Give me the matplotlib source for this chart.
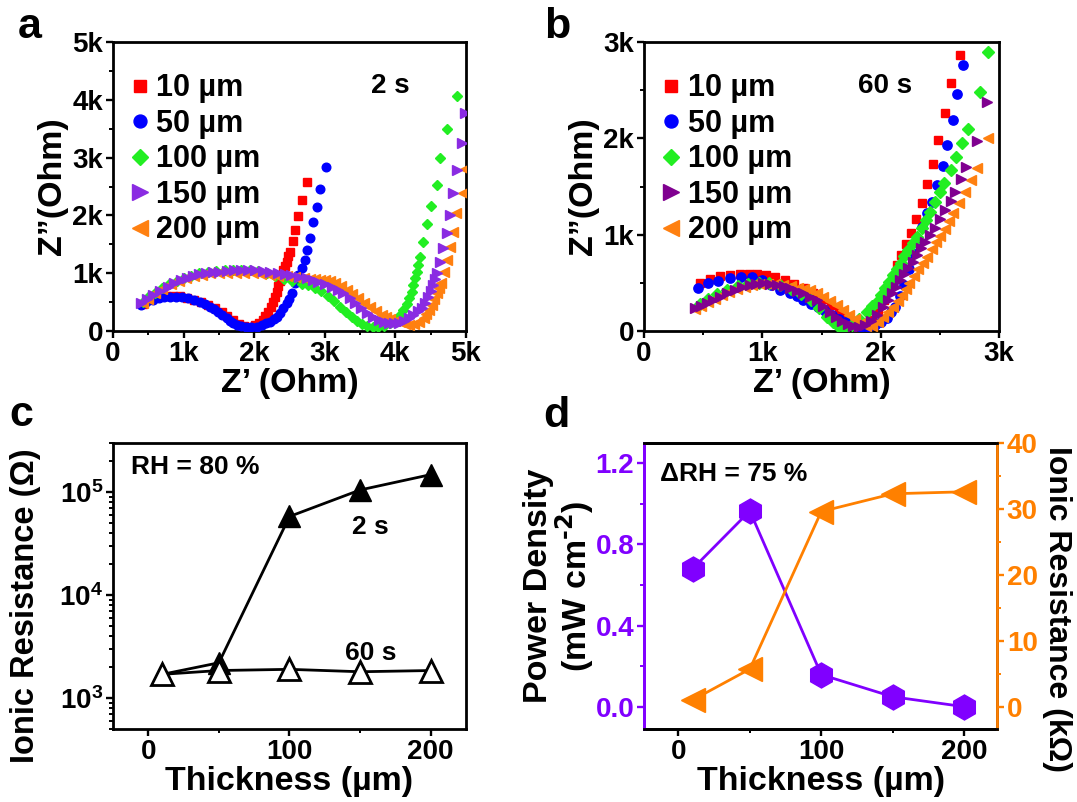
import matplotlib
matplotlib.use("Agg")
import matplotlib.pyplot as plt
from matplotlib.ticker import MultipleLocator, FuncFormatter, LogLocator, LogFormatterMathtext

plt.rcParams['font.family'] = ['Liberation Sans', 'DejaVu Sans']
plt.rcParams['font.weight'] = 'bold'
plt.rcParams['mathtext.default'] = 'bf'

# ---- panel a: Nyquist plots, 2 s ----
a10_re = [420, 480, 560, 650, 750, 850, 950, 1050, 1150, 1250, 1350, 1450, 1540, 1620, 1700, 1780, 1860, 1940, 2010, 2070,
          2120, 2160, 2200, 2235, 2265, 2290, 2318, 2342, 2365, 2390, 2413, 2437, 2460, 2485, 2507, 2545, 2578, 2625, 2672, 2743]
a10_im = [470, 530, 575, 600, 610, 610, 600, 575, 540, 500, 450, 390, 330, 260, 190, 125, 85, 75, 95, 140,
          195, 260, 330, 410, 500, 590, 680, 770, 860, 960, 1055, 1130, 1200, 1290, 1372, 1563, 1747, 1995, 2266, 2583]
a50_re = [400, 470, 563, 650, 729, 810, 896, 980, 1063, 1150, 1229, 1300, 1371, 1430, 1491, 1550, 1610, 1660, 1706, 1760,
          1820, 1890, 1960, 2035, 2110, 2170, 2224, 2275, 2320, 2365, 2410, 2460, 2500, 2531, 2578, 2625, 2672, 2720, 2752, 2790,
          2838, 2894, 2932, 3017]
a50_im = [450, 500, 536, 565, 583, 592, 595, 585, 566, 540, 507, 465, 420, 378, 334, 280, 220, 175, 133, 100,
          80, 72, 70, 74, 100, 130, 161, 200, 250, 306, 390, 479, 560, 652, 825, 969, 1085, 1228, 1401, 1604,
          1891, 2151, 2451, 2843]
a100_re = [420, 500, 600, 700, 800, 900, 1000, 1100, 1220, 1340, 1460, 1580, 1700, 1820, 1940, 2060, 2180, 2300, 2420, 2540,
           2670, 2760, 2857, 2950, 3048, 3130, 3215, 3300, 3381, 3450, 3524, 3600, 3680, 3760, 3840, 3920, 3980, 4018, 4070, 4112,
           4160, 4197, 4230, 4254, 4280, 4301, 4325, 4348, 4387, 4443, 4500, 4594, 4632, 4727, 4877]
a100_im = [500, 580, 660, 740, 810, 870, 920, 960, 995, 1020, 1040, 1055, 1060, 1060, 1050, 1030, 995, 950, 900, 860,
           820, 790, 750, 690, 610, 520, 420, 330, 247, 180, 120, 80, 65, 70, 90, 130, 160, 190, 270, 363,
           460, 565, 680, 796, 910, 1026, 1150, 1286, 1545, 1846, 2168, 2526, 2988, 3490, 4066]
a150_re = [400, 480, 562, 660, 775, 870, 963, 1050, 1129, 1220, 1317, 1410, 1506, 1610, 1718, 1810, 1907, 2010, 2120, 2230,
           2333, 2430, 2527, 2640, 2741, 2830, 2906, 3000, 3097, 3180, 3263, 3350, 3430, 3510, 3596, 3680, 3763, 3840, 3906, 3980,
           4049, 4120, 4191, 4254, 4320, 4372, 4420, 4466, 4500, 4528, 4560, 4585, 4632, 4679, 4727, 4773, 4821, 4868, 4950, 4990]
a150_im = [490, 560, 623, 700, 767, 830, 882, 920, 952, 978, 998, 1012, 1026, 1040, 1050, 1055, 1055, 1050, 1040, 1025,
           1010, 990, 969, 940, 911, 885, 854, 815, 767, 712, 652, 570, 479, 390, 306, 240, 190, 150, 133, 130,
           144, 180, 230, 280, 340, 392, 490, 593, 690, 796, 900, 998, 1199, 1430, 1690, 2007, 2382, 2785, 3250, 3770]
a200_re = [420, 500, 600, 700, 820, 930, 1040, 1150, 1260, 1380, 1500, 1620, 1740, 1860, 1980, 2100, 2220, 2340, 2460, 2580,
           2700, 2790, 2857, 2930, 3000, 3070, 3143, 3230, 3310, 3390, 3477, 3560, 3644, 3730, 3810, 3870, 3929, 3990, 4060, 4130,
           4191, 4260, 4334, 4400, 4440, 4477, 4514, 4550, 4585, 4620, 4641, 4688, 4727, 4773, 4811, 4858, 4955, 4980]
a200_im = [480, 560, 650, 730, 810, 870, 915, 950, 975, 995, 1005, 1010, 1010, 1005, 995, 985, 975, 960, 945, 930,
           915, 905, 900, 890, 880, 860, 825, 770, 709, 640, 565, 490, 420, 350, 277, 240, 210, 180, 150, 120,
           110, 120, 150, 230, 290, 370, 450, 550, 652, 740, 836, 1026, 1228, 1459, 1718, 2036, 2390, 2800]

# ---- panel b: Nyquist plots, 60 s ----
b10_re = [473, 560, 642, 730, 811, 890, 952, 1030, 1110, 1190, 1270, 1350, 1430, 1510, 1580, 1650, 1710, 1770, 1830, 1880,
          1930, 1980, 2030, 2070, 2107, 2140, 2170, 2215, 2254, 2299, 2347, 2390, 2440, 2488, 2544, 2595, 2666]
b10_im = [495, 540, 571, 585, 592, 594, 592, 580, 560, 530, 490, 445, 390, 330, 265, 195, 130, 75, 45, 50,
          110, 200, 320, 440, 560, 680, 789, 903, 1021, 1163, 1326, 1523, 1734, 1983, 2261, 2572, 2866]
b50_re = [459, 544, 628, 727, 820, 910, 1000, 1075, 1150, 1234, 1290, 1347, 1410, 1470, 1530, 1590, 1650, 1710, 1770, 1830,
          1890, 1950, 2000, 2050, 2090, 2122, 2160, 2200, 2235, 2263, 2305, 2347, 2390, 2432, 2479, 2530, 2564, 2609, 2643, 2694]
b50_im = [443, 495, 522, 547, 565, 565, 530, 480, 426, 391, 360, 322, 285, 245, 205, 165, 125, 90, 60, 45,
          45, 60, 90, 140, 195, 252, 360, 480, 640, 807, 945, 1083, 1222, 1343, 1516, 1713, 1931, 2191, 2461, 2762]
b100_re = [470, 540, 620, 700, 790, 880, 970, 1060, 1150, 1240, 1330, 1410, 1480, 1544, 1600, 1650, 1700, 1760, 1820, 1883,
           1930, 1967, 2000, 2037, 2070, 2107, 2140, 2170, 2200, 2234, 2270, 2305, 2345, 2384, 2420, 2460, 2500, 2536, 2590, 2637,
           2690, 2741, 2840, 2911]
b100_im = [280, 330, 380, 425, 465, 490, 500, 495, 475, 440, 385, 320, 240, 148, 90, 44, 30, 60, 120, 200,
           255, 304, 370, 443, 510, 582, 645, 709, 775, 841, 910, 979, 1065, 1153, 1240, 1336, 1440, 1540, 1675, 1810,
           1950, 2094, 2485, 2900]
b150_re = [431, 480, 530, 585, 642, 705, 769, 830, 896, 950, 1008, 1065, 1121, 1180, 1234, 1290, 1347, 1400, 1460, 1515,
           1572, 1620, 1670, 1720, 1770, 1820, 1870, 1920, 1970, 2023, 2060, 2094, 2130, 2164, 2200, 2234, 2270, 2305, 2340, 2375,
           2420, 2460, 2500, 2544, 2590, 2629, 2680, 2722, 2812, 2897]
b150_im = [236, 262, 288, 322, 356, 392, 426, 455, 478, 490, 495, 490, 478, 462, 443, 420, 391, 358, 322, 262,
           200, 150, 105, 70, 50, 45, 60, 100, 170, 252, 320, 391, 460, 530, 590, 651, 720, 789, 860, 927,
           995, 1066, 1160, 1257, 1350, 1447, 1580, 1706, 1976, 2381]
b200_re = [430, 485, 540, 600, 660, 720, 785, 850, 915, 980, 1045, 1110, 1175, 1240, 1300, 1350, 1403, 1460, 1516, 1570,
           1629, 1680, 1730, 1780, 1830, 1880, 1930, 1980, 2023, 2065, 2107, 2143, 2178, 2210, 2243, 2280, 2319, 2355, 2390, 2430,
           2468, 2505, 2544, 2580, 2615, 2665, 2713, 2760, 2812, 2911]
b200_im = [230, 262, 298, 335, 372, 405, 435, 460, 478, 490, 492, 488, 478, 465, 448, 438, 426, 395, 356, 315,
           270, 220, 170, 120, 80, 55, 55, 90, 148, 200, 252, 310, 374, 435, 495, 570, 641, 705, 772, 850,
           927, 990, 1056, 1140, 1222, 1330, 1447, 1570, 1690, 2001]

# ---- panels c, d ----
thickness = [10, 50, 100, 150, 200]
res_2s = [1700, 2200, 58000, 105000, 148000]
res_60s = [1700, 1850, 1900, 1800, 1850]
power_density = [0.68, 0.965, 0.158, 0.049, 0.0]
ionic_res_k = [1.0, 5.7, 29.6, 32.3, 32.6]

labels = ['10 µm', '50 µm', '100 µm', '150 µm', '200 µm']
cols_a = ['#ff0000', '#0000ff', '#22ee22', '#8a2be2', '#ff8010']
cols_b = ['#ff0000', '#0000ff', '#22ee22', '#800090', '#ff8010']
markers = ['s', 'o', 'D', '>', '<']
msizes = [5.6, 6.2, 5.6, 7.4, 7.4]

TICK = 20
LAB = 24.5
SPW = 2.0


def style_axes(ax):
    for s in ax.spines.values():
        s.set_linewidth(SPW)
    ax.tick_params(which='major', direction='out', length=5, width=1.7, labelsize=TICK, pad=2)
    ax.tick_params(which='minor', direction='out', length=3, width=1.4)
    ax.tick_params(top=False, right=False, which='both')
    for lab in ax.get_xticklabels() + ax.get_yticklabels():
        lab.set_fontweight('bold')


def kfmt(v, pos):
    return '0' if v == 0 else f'{int(v / 1000)}k'


fig = plt.figure(figsize=(10.77, 8.02), dpi=100)

ax_a = fig.add_axes([0.1049, 0.5873, 0.3278, 0.3603])
ax_b = fig.add_axes([0.5980, 0.5873, 0.3296, 0.3603])
ax_c = fig.add_axes([0.1049, 0.0910, 0.3278, 0.3566])
ax_d = fig.add_axes([0.5980, 0.0910, 0.3278, 0.3566])

leg_kw = dict(loc='upper left', frameon=False, handlelength=0.7, handletextpad=0.2, labelspacing=0.18,
              borderpad=0, borderaxespad=0, prop={'weight': 'bold', 'size': 22})

# panel a
series_a = [(a10_re, a10_im), (a50_re, a50_im), (a100_re, a100_im), (a150_re, a150_im), (a200_re, a200_im)]
zorders = [2, 3, 4, 6, 5]
for i, (re, im) in enumerate(series_a):
    ax_a.plot(re, im, linestyle='none', marker=markers[i], ms=msizes[i], color=cols_a[i],
              mec=cols_a[i], label=labels[i], zorder=zorders[i])
ax_a.set_xlim(0, 5000)
ax_a.set_ylim(0, 5000)
for axis in (ax_a.xaxis, ax_a.yaxis):
    axis.set_major_locator(MultipleLocator(1000))
    axis.set_minor_locator(MultipleLocator(500))
    axis.set_major_formatter(FuncFormatter(kfmt))
style_axes(ax_a)
ax_a.set_xlabel('Z’ (Ohm)', fontsize=LAB, fontweight='bold', labelpad=1)
ax_a.set_ylabel('Z”(Ohm)', fontsize=LAB, fontweight='bold', labelpad=3)
ax_a.text(0.785, 0.848, '2 s', transform=ax_a.transAxes, fontsize=20, fontweight='bold', ha='center', va='center')
ax_a.legend(bbox_to_anchor=(0.045, 0.892), markerscale=1.5, **leg_kw)

# panel b
series_b = [(b10_re, b10_im), (b50_re, b50_im), (b100_re, b100_im), (b150_re, b150_im), (b200_re, b200_im)]
zorders_b = [2, 3, 4, 6, 5]
for i, (re, im) in enumerate(series_b):
    ax_b.plot(re, im, linestyle='none', marker=markers[i], ms=msizes[i] + 0.5, color=cols_b[i],
              mec=cols_b[i], label=labels[i], zorder=zorders_b[i])
ax_b.set_xlim(0, 3000)
ax_b.set_ylim(0, 3000)
for axis in (ax_b.xaxis, ax_b.yaxis):
    axis.set_major_locator(MultipleLocator(1000))
    axis.set_minor_locator(MultipleLocator(500))
    axis.set_major_formatter(FuncFormatter(kfmt))
style_axes(ax_b)
ax_b.set_xlabel('Z’ (Ohm)', fontsize=LAB, fontweight='bold', labelpad=1)
ax_b.set_ylabel('Z”(Ohm)', fontsize=LAB, fontweight='bold', labelpad=3)
ax_b.text(0.68, 0.848, '60 s', transform=ax_b.transAxes, fontsize=20, fontweight='bold', ha='center', va='center')
ax_b.legend(bbox_to_anchor=(0.045, 0.892), markerscale=1.4, **leg_kw)

# panel c
ax_c.plot(thickness, res_2s, '-^', color='black', ms=16, lw=2.0, mfc='black', mec='black', zorder=3)
ax_c.plot(thickness, res_60s, '-^', color='black', ms=16, lw=2.0, mfc='white', mec='black', mew=2.0, zorder=4)
ax_c.set_yscale('log')
ax_c.set_xlim(-25, 225)
ax_c.set_ylim(500, 3e5)
ax_c.xaxis.set_major_locator(MultipleLocator(100))
ax_c.xaxis.set_minor_locator(MultipleLocator(50))
ax_c.yaxis.set_major_locator(LogLocator(base=10, numticks=10))
ax_c.yaxis.set_minor_locator(LogLocator(base=10, subs=range(2, 10), numticks=20))
ax_c.yaxis.set_major_formatter(LogFormatterMathtext())
style_axes(ax_c)
ax_c.set_xlabel('Thickness (µm)', fontsize=LAB, fontweight='bold', labelpad=1)
ax_c.set_ylabel('Ionic Resistance (Ω)', fontsize=23.5, fontweight='bold')
ax_c.yaxis.set_label_coords(-0.205, 0.43)
ax_c.text(0.05, 0.915, 'RH = 80 %', transform=ax_c.transAxes, fontsize=19, fontweight='bold', ha='left', va='center')
ax_c.text(0.73, 0.706, '2 s', transform=ax_c.transAxes, fontsize=19, fontweight='bold', ha='center', va='center')
ax_c.text(0.73, 0.266, '60 s', transform=ax_c.transAxes, fontsize=19, fontweight='bold', ha='center', va='center')

# panel d
purple = '#8000ff'
orange = '#ff8000'
ax_d.plot(thickness, power_density, '-h', color=purple, ms=18, lw=2.0, zorder=3)
ax_d.set_xlim(-24, 223)
ax_d.set_ylim(-0.11, 1.30)
ax_d.xaxis.set_major_locator(MultipleLocator(100))
ax_d.xaxis.set_minor_locator(MultipleLocator(50))
ax_d.yaxis.set_major_locator(MultipleLocator(0.4))
ax_d.yaxis.set_minor_locator(MultipleLocator(0.2))
ax_d.yaxis.set_major_formatter(FuncFormatter(lambda v, p: f'{v:.1f}'))
ax_d2 = ax_d.twinx()
ax_d2.plot(thickness, ionic_res_k, '-<', color=orange, ms=17, lw=2.0, zorder=3)
ax_d2.set_ylim(-3.4, 40)
ax_d2.yaxis.set_major_locator(MultipleLocator(10))
ax_d2.yaxis.set_minor_locator(MultipleLocator(5))
style_axes(ax_d)
for s in ax_d2.spines.values():
    s.set_linewidth(SPW)
ax_d2.tick_params(which='major', direction='out', length=5, width=1.7, labelsize=TICK, pad=2, colors=orange)
ax_d2.tick_params(which='minor', direction='out', length=3, width=1.4, colors=orange)
for lab in ax_d2.get_yticklabels():
    lab.set_fontweight('bold')
ax_d.spines['left'].set_color(purple)
ax_d2.spines['left'].set_color(purple)
ax_d2.spines['right'].set_color(orange)
ax_d.tick_params(axis='y', which='both', colors=purple)
ax_d.set_xlabel('Thickness (µm)', fontsize=LAB, fontweight='bold', labelpad=1)
ax_d.set_ylabel('Power Density\n(mW cm$^{\\text{-2}}$)', fontsize=LAB, fontweight='bold', labelpad=0,
                linespacing=0.95)
ax_d2.set_ylabel('Ionic Resistance (kΩ)', fontsize=23, fontweight='bold', rotation=270,
                 va='center', ha='center')
ax_d2.yaxis.set_label_coords(1.17, 0.42)
ax_d.text(0.045, 0.89, 'ΔRH = 75 %', transform=ax_d.transAxes, fontsize=19, fontweight='bold', ha='left', va='center')

# panel letters
for x, y, t in [(0.028, 0.966, 'a'), (0.517, 0.966, 'b'), (0.020, 0.483, 'c'), (0.517, 0.481, 'd')]:
    fig.text(x, y, t, fontsize=31, fontweight='bold', ha='center', va='center')

fig.savefig('out.png', dpi=100)
